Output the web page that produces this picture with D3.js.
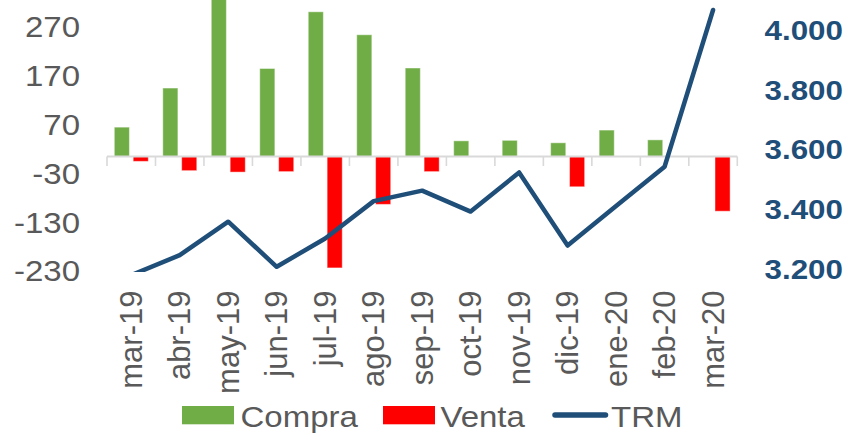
<!DOCTYPE html>
<html>
<head>
<meta charset="utf-8">
<script src="https://cdn.jsdelivr.net/npm/d3@7"></script>
<style>
  html, body { margin: 0; padding: 0; background: #fff; }
  svg { display: block; font-family: "Liberation Sans", Arial, sans-serif; }
</style>
</head>
<body>
<svg id="chart" width="846" height="433"></svg>
<script>
const categories = ["mar-19","abr-19","may-19","jun-19","jul-19","ago-19","sep-19","oct-19","nov-19","dic-19","ene-20","feb-20","mar-20"];
const compra = [60, 140, 340, 180, 296, 249, 181, 32, 33, 28, 54, 34, 0];
const venta = [-10, -29, -32, -31, -228, -98, -31, 0, 0, -62, 0, 0, -112];
const trm = [3175, 3242, 3354, 3203, 3298, 3423, 3458, 3388, 3519, 3274, 3407, 3538, 4063];
const leftTicks = [270, 170, 70, -30, -130, -230];
const rightTicks = [3200, 3400, 3600, 3800, 4000];
const seriesNames = ["Compra", "Venta", "TRM"];

const svg = d3.select("#chart");
const colors = { Compra: "#70AD47", Venta: "#FF0000", TRM: "#1F4E79" };
const textGray = "#595959";

const x = d3.scaleBand().domain(categories).range([107, 737.3]).padding(0);
const x1 = d3.scaleBand().domain(["Compra", "Venta"]).range([7.3, 41.3]).paddingInner(0.2);
const yL = d3.scaleLinear().domain([-230, 270]).range([268.9, 24.5]);
const yR = d3.scaleLinear().domain([3200, 4000]).range([267.7, 28.8]);

svg.append("defs").append("clipPath").attr("id", "plotclip")
  .append("rect").attr("x", 0).attr("y", -200).attr("width", 846).attr("height", 472);

// bars
const barData = [];
categories.forEach((c, i) => {
  barData.push({ cat: c, s: "Compra", v: compra[i] });
  barData.push({ cat: c, s: "Venta", v: venta[i] });
});
svg.append("g").selectAll("rect").data(barData.filter(d => d.v !== 0)).join("rect")
  .attr("x", d => x(d.cat) + x1(d.s))
  .attr("width", x1.bandwidth())
  .attr("y", d => Math.min(yL(d.v), yL(0)))
  .attr("height", d => Math.abs(yL(d.v) - yL(0)))
  .attr("fill", d => colors[d.s])
  .attr("stroke", "rgba(255,255,255,0.45)")
  .attr("stroke-width", 1);

// x axis line and ticks
const y0 = 156.5;
const axG = svg.append("g");
axG.append("line")
  .attr("x1", x.range()[0]).attr("x2", x.range()[1])
  .attr("y1", y0).attr("y2", y0)
  .attr("stroke", "#D9D9D9").attr("stroke-width", 2);
const tickXs = categories.map(c => x(c)).concat([x.range()[1]]);
axG.selectAll("line.tk").data(tickXs).join("line").attr("class", "tk")
  .attr("x1", d => d).attr("x2", d => d)
  .attr("y1", y0).attr("y2", y0 + 9.5)
  .attr("stroke", "#D9D9D9").attr("stroke-width", 1.6);

// x labels
const xAxis = svg.append("g").attr("transform", `translate(0,${y0})`)
  .call(d3.axisBottom(x).tickSize(0));
xAxis.select(".domain").remove();
xAxis.selectAll("text")
  .attr("x", 0).attr("y", 0).attr("dy", 0)
  .attr("text-anchor", "end")
  .attr("transform", "translate(10.5,134)rotate(-90)")
  .attr("fill", textGray)
  .style("font-size", "31px")
  .style("font-family", '"Liberation Sans", Arial, sans-serif');

// left axis
const lAxis = svg.append("g").attr("transform", "translate(80,0)")
  .call(d3.axisLeft(yL).tickValues(leftTicks).tickSize(0).tickFormat(d => String(d)));
lAxis.select(".domain").remove();
lAxis.selectAll("text")
  .attr("x", 0).attr("dy", "0.4em")
  .attr("text-anchor", "end")
  .attr("transform", "scale(1.1,1)")
  .attr("fill", textGray)
  .style("font-size", "30px")
  .style("font-family", '"Liberation Sans", Arial, sans-serif');

// right axis
const loc = d3.formatLocale({ decimal: ",", thousands: ".", grouping: [3], currency: ["", ""] });
const rAxis = svg.append("g").attr("transform", "translate(764.5,0)")
  .call(d3.axisRight(yR).tickValues(rightTicks).tickSize(0).tickFormat(loc.format(",.0f")));
rAxis.select(".domain").remove();
rAxis.selectAll("text")
  .attr("x", 0).attr("dy", "0.38em")
  .attr("text-anchor", "start")
  .attr("transform", "scale(1.12,1)")
  .attr("fill", colors.TRM)
  .style("font-weight", "bold")
  .style("font-size", "28px")
  .style("font-family", '"Liberation Sans", Arial, sans-serif');

// TRM line
const line = d3.line()
  .x((d, i) => x(categories[i]) + x.bandwidth() / 2)
  .y(d => yR(d));
svg.append("path").datum(trm)
  .attr("clip-path", "url(#plotclip)")
  .attr("d", line)
  .attr("fill", "none")
  .attr("stroke", colors.TRM)
  .attr("stroke-width", 4.5)
  .attr("stroke-linejoin", "round")
  .attr("stroke-linecap", "round");

// legend
const legBase = 426.5;
const leg = svg.append("g");
const legItems = [
  { name: seriesNames[0], sx: 182, tx: 240.5 },
  { name: seriesNames[1], sx: 383, tx: 440.5 },
  { name: seriesNames[2], sx: 555, tx: 611 }
];
legItems.forEach(it => {
  if (it.name === "TRM") {
    leg.append("line").attr("x1", it.sx).attr("x2", 605.5).attr("y1", legBase - 11.5).attr("y2", legBase - 11.5)
      .attr("stroke", colors.TRM).attr("stroke-width", 5.5).attr("stroke-linecap", "round");
  } else {
    leg.append("rect").attr("x", it.sx).attr("y", legBase - 20.5).attr("width", 52).attr("height", 18.3)
      .attr("fill", colors[it.name]);
  }
  leg.append("text").attr("x", 0).attr("y", 0)
    .attr("transform", `translate(${it.tx},${legBase}) scale(1.1,1)`)
    .attr("fill", textGray)
    .style("font-size", "30px")
    .text(it.name);
});
</script>
</body>
</html>
